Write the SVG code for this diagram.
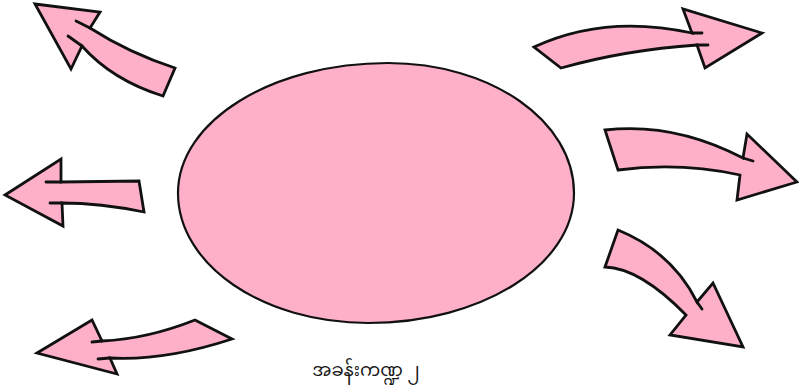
<svg xmlns="http://www.w3.org/2000/svg" width="799" height="392" viewBox="0 0 799 392">
<style>
.shape{fill:#FDB0C8;stroke:#111;stroke-width:2.8;stroke-linejoin:miter;stroke-miterlimit:6}
.ext{fill:none;stroke:#111;stroke-width:2.8;stroke-linecap:round}
.lbl{font-family:"Noto Sans Myanmar","Padauk","Myanmar Text","Noto Sans",sans-serif;font-size:18px;fill:#1a1a1a}
</style>
<rect width="799" height="392" fill="#fff"/>
<g id="center">
<path class="shape" style="stroke-width:2.2" d="M178,193 C178,121 272,63 388,63 C491,63 574,121 574,193 C574,265 482,323 368,323 C263,323 178,265 178,193 Z"/>
</g>
<g id="connectors">
<g id="arrow-top-left">
<path class="shape" d="M35,4 L100,12 L90,28 Q129,53 175,68 L163,96 Q112,80 82,46 L71,69 Z"/>
<path class="ext" d="M76,21 L90,28 M68,36 L82,46"/>
</g>
<g id="arrow-top-right">
<path class="shape" d="M534,47 Q605,14 692,33 L683,9 L762,33 L705,68 L697,45 Q625,50 561,68 Z"/>
<path class="ext" d="M692,33 L702,33 M697,45 L708,45"/>
</g>
<g id="arrow-left">
<path class="shape" d="M5,195 L61,159 L61,182 L139,181 L144,212 Q100,203 62,203 L63,226 Z"/>
<path class="ext" d="M46,182 L61,182 M50,203 L62,203"/>
</g>
<g id="arrow-right">
<path class="shape" d="M605,130 Q674,122 743,158 L747,134 L797,182 L737,200 L740,175 Q680,162 618,170 Z"/>
<path class="ext" d="M743,158 L753,161"/>
</g>
<g id="arrow-bottom-right">
<path class="shape" d="M618,230 Q672,252 697,302 L713,283 L743,347 L670,335 L686,315 Q640,268 605,267 Z"/>
<path class="ext" d="M697,302 L702,309"/>
</g>
<g id="arrow-bottom-left">
<path class="shape" d="M37,353 L92,320 L102,341 Q147,339 195,320 L232,339 Q165,361 110,358 L117,374 Z"/>
<path class="ext" d="M92,342 L102,341 M98,359 L110,358"/>
</g>
</g>
<g id="caption">
<text class="lbl" x="366" y="376" text-anchor="middle">အခန်းကဏ္ဍ ၂</text>
</g>
</svg>
